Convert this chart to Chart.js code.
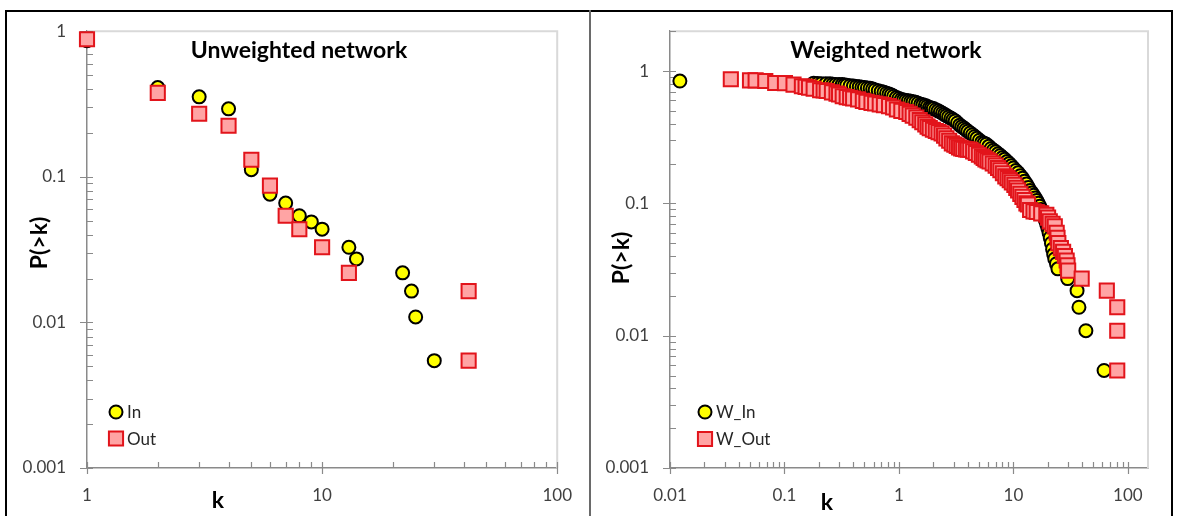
<!DOCTYPE html>
<html>
<head>
<meta charset="utf-8">
<script src="https://cdn.jsdelivr.net/npm/chart.js@4.4.0/dist/chart.umd.min.js"></script>
<style>
  body { margin: 0; background: #fff; }
  #wrap { position: relative; width: 1179px; height: 516px; overflow: hidden; background: #fff; }
  #frame { position: absolute; left: 5px; top: 10px; width: 1168px; height: 530px; border: 2px solid #000; box-sizing: border-box; }
  #divider { position: absolute; left: 589px; top: 10px; width: 2px; height: 520px; background: #6a6a6a; }
  canvas { position: absolute; top: 0; }
</style>
</head>
<body>
<div id="wrap">
  <div id="frame"></div>
  <div id="divider"></div>
  <canvas id="left" width="589" height="516" style="left:0"></canvas>
  <canvas id="right" width="589" height="516" style="left:590px"></canvas>
</div>
<script>
// ====== DATA: UNWEIGHTED ======
const inK  = [1, 2, 3, 4, 5, 6, 7, 8, 9, 10, 13, 14, 22, 24, 25, 30];
const inP  = [0.86, 0.41, 0.354, 0.293, 0.112, 0.076, 0.066, 0.054, 0.049, 0.0437, 0.0328, 0.0273, 0.0219, 0.0164, 0.0109, 0.00546];
const outK = [1, 2, 3, 4, 5, 6, 7, 8, 10, 13, 42, 42];
const outP = [0.88, 0.377, 0.271, 0.224, 0.131, 0.087, 0.054, 0.0436, 0.0328, 0.0219, 0.0164, 0.00546];

// ====== DATA: WEIGHTED ======
const wInK = [0.0122, 0.18, 0.195, 0.21, 0.23, 0.25, 0.265, 0.28, 0.30, 0.32, 0.335, 0.35, 0.375, 0.40, 0.425, 0.45,
  0.475, 0.50, 0.53, 0.56, 0.59, 0.62, 0.66, 0.70, 0.74, 0.78, 0.82, 0.86, 0.90, 0.95, 1.0, 1.05, 1.1, 1.15, 1.21,
  1.27, 1.33, 1.4, 1.47, 1.55, 1.62, 1.7, 1.77, 1.85, 1.92, 2.0, 2.1, 2.2, 2.3, 2.4, 2.5, 2.6, 2.72, 2.85, 2.97,
  3.1, 3.25, 3.4, 3.55, 3.7, 3.85, 4.0, 4.2, 4.4, 4.6, 4.8, 5.05, 5.3, 5.55, 5.8, 6.1, 6.4, 6.7, 7.0, 7.35, 7.7,
  8.05, 8.4, 8.8, 9.2, 9.6, 10, 10.5, 11, 11.5, 12, 12.5, 13, 13.5, 14, 14.5, 15, 15.5, 16, 16.5, 17, 17.5, 18,
  18.5, 19, 19.5, 20, 20.5, 21, 21.5, 22, 22.5, 23, 23.8, 24.5, 29.8, 36, 37.4, 43, 62];
const wInP = [0.84, 0.81, 0.805, 0.80, 0.80, 0.80, 0.795, 0.79, 0.79, 0.79, 0.785, 0.78, 0.775, 0.77, 0.765, 0.76,
  0.755, 0.75, 0.745, 0.74, 0.73, 0.72, 0.71, 0.70, 0.69, 0.68, 0.67, 0.66, 0.645, 0.63, 0.62, 0.61, 0.605, 0.60, 0.595,
  0.59, 0.585, 0.58, 0.57, 0.56, 0.555, 0.55, 0.54, 0.53, 0.525, 0.52, 0.51, 0.50, 0.49, 0.48, 0.47, 0.46, 0.45, 0.44, 0.43,
  0.42, 0.405, 0.39, 0.38, 0.37, 0.36, 0.35, 0.34, 0.33, 0.32, 0.31, 0.30, 0.29, 0.285, 0.28, 0.27, 0.26, 0.252, 0.245, 0.237, 0.23,
  0.222, 0.215, 0.207, 0.20, 0.192, 0.185, 0.177, 0.17, 0.162, 0.155, 0.147, 0.14, 0.132, 0.125, 0.12, 0.115, 0.11, 0.105, 0.10, 0.095, 0.09, 0.085,
  0.08, 0.075, 0.07, 0.065, 0.06, 0.055, 0.05, 0.045, 0.041, 0.038, 0.035, 0.032, 0.027, 0.0219, 0.0164, 0.0109, 0.00546];
const wOutK = [0.034, 0.050, 0.056, 0.068, 0.083, 0.101, 0.12, 0.142, 0.153, 0.164, 0.18, 0.205, 0.22, 0.234, 0.26,
  0.285, 0.30, 0.323, 0.35, 0.375, 0.398, 0.44, 0.484, 0.52, 0.576, 0.62, 0.68, 0.74, 0.82, 0.89, 0.96, 1.05, 1.16,
  1.24, 1.32, 1.42, 1.52, 1.6, 1.70, 1.78, 1.86, 1.98, 2.10, 2.22, 2.36, 2.48, 2.60, 2.75, 2.90, 3.05, 3.20, 3.35,
  3.50, 3.65, 3.85, 4.0, 4.20, 4.45, 4.70, 5.0, 5.30, 5.5, 5.70, 5.95, 6.20, 6.6, 7.00, 7.35, 7.70, 8.1, 8.50, 8.9,
  9.30, 9.7, 10.2, 10.6, 11.0, 11.5, 12.0, 12.5, 13.0, 13.4, 14.0, 15, 16.0, 17.5, 19.4, 20.1, 20.8, 22, 23.0, 23.9,
  24.3, 24.7, 26, 27.2, 28.2, 29.2, 29.7, 30.1, 39.5, 65.5, 80.8, 80.8, 80.8];
const wOutP = [0.866, 0.851, 0.851, 0.840, 0.812, 0.810, 0.79, 0.767, 0.76, 0.750, 0.735, 0.716, 0.712, 0.707, 0.69,
  0.675, 0.665, 0.645, 0.635, 0.628, 0.620, 0.61, 0.595, 0.585, 0.575, 0.568, 0.560, 0.552, 0.543, 0.53, 0.512, 0.50, 0.490,
  0.475, 0.460, 0.445, 0.426, 0.41, 0.395, 0.38, 0.370, 0.36, 0.352, 0.345, 0.338, 0.325, 0.310, 0.297, 0.284, 0.278, 0.272, 0.265,
  0.260, 0.258, 0.256, 0.255, 0.254, 0.247, 0.240, 0.233, 0.226, 0.22, 0.215, 0.211, 0.207, 0.20, 0.193, 0.185, 0.178, 0.169, 0.160, 0.155,
  0.150, 0.144, 0.138, 0.131, 0.125, 0.118, 0.112, 0.106, 0.100, 0.098, 0.089, 0.087, 0.086, 0.084, 0.082, 0.078, 0.073, 0.070, 0.067, 0.060,
  0.055, 0.050, 0.046, 0.043, 0.040, 0.037, 0.034, 0.031, 0.027, 0.0219, 0.0164, 0.0109, 0.00546];

// ====== TICK LABELS ======
const yTicks = [0.001, 0.01, 0.1, 1];
const yLabels = ['0.001', '0.01', '0.1', '1'];
const xTicksL = [1, 10, 100];
const xLabelsL = ['1', '10', '100'];
const xTicksR = [0.01, 0.1, 1, 10, 100];
const xLabelsR = ['0.01', '0.1', '1', '10', '100'];

function pairs(ks, ps) { return ks.map((k, i) => ({ x: k, y: ps[i] })); }
function labelFor(vals, labels) {
  return v => {
    const i = vals.findIndex(t => Math.abs(t - v) < t * 1e-6);
    return i >= 0 ? labels[i] : '';
  };
}

// ====== STYLES ======
const FONT = 'Lato, "Open Sans", sans-serif';
const AXIS = '#8a8a8a';
const circleStyle = { pointStyle: 'circle', pointRadius: 6.5, pointHoverRadius: 6.5, pointBackgroundColor: '#FFFF00',
  pointBorderColor: '#000', pointBorderWidth: 2, showLine: false, clip: false, order: 1 };
const squareStyle = { pointStyle: 'rect', pointRadius: 10, pointHoverRadius: 10, pointBackgroundColor: '#FFA4A4',
  pointBorderColor: '#E2141B', pointBorderWidth: 2, showLine: false, clip: false, order: 0 };

// minor/major tick positions for a log axis (values only)
function logSteps(min, max) {
  const out = [];
  for (let e = Math.floor(Math.log10(min)); e <= Math.ceil(Math.log10(max)); e++) {
    for (let d = 1; d <= 9; d++) {
      const v = d * Math.pow(10, e);
      if (v >= min * 0.999 && v <= max * 1.001) out.push({ v, major: d === 1 });
    }
  }
  return out;
}

// ====== DECORATION PLUGIN (frame, ticks, titles, legend) ======
const deco = {
  id: 'deco',
  beforeDatasetsDraw(chart, args, o) {
    const { ctx, chartArea: a, scales: { x, y } } = chart;
    ctx.save();
    ctx.strokeStyle = '#d9d9d9'; ctx.lineWidth = 2;
    ctx.beginPath(); ctx.moveTo(a.left, a.top); ctx.lineTo(a.right, a.top); ctx.lineTo(a.right, a.bottom); ctx.stroke();
    ctx.strokeStyle = AXIS; ctx.lineWidth = 1.2;
    ctx.beginPath();
    logSteps(x.min, x.max).forEach(t => {
      const px = Math.round(x.getPixelForValue(t.v)) + 0.5;
      ctx.moveTo(px, a.bottom - 6); ctx.lineTo(px, a.bottom + (t.major ? 6 : 0));
    });
    logSteps(y.min, y.max).forEach(t => {
      const py = Math.round(y.getPixelForValue(t.v)) + 0.5;
      ctx.moveTo(a.left - (t.major ? 7 : 0), py); ctx.lineTo(a.left + 6, py);
    });
    ctx.stroke();
    ctx.restore();
  },
  afterDraw(chart, args, o) {
    const { ctx } = chart;
    ctx.save();
    ctx.fillStyle = '#000';
    ctx.textAlign = 'center'; ctx.textBaseline = 'middle';
    ctx.font = 'bold 23px ' + FONT;
    ctx.fillText(o.title, o.titleX, o.titleY);
    ctx.fillText('k', o.kX, o.kY);
    ctx.save();
    ctx.translate(o.pX, o.pY); ctx.rotate(-Math.PI / 2);
    ctx.fillText('P(>k)', 0, 0);
    ctx.restore();
    // legend
    ctx.font = '17px ' + FONT;
    ctx.textAlign = 'left';
    chart.data.datasets.forEach((ds, i) => {
      const ly = o.legendY + i * o.legendGap;
      ctx.fillStyle = ds.pointBackgroundColor; ctx.strokeStyle = ds.pointBorderColor; ctx.lineWidth = ds.pointBorderWidth;
      Chart.helpers.drawPoint(ctx, { pointStyle: ds.pointStyle, radius: ds.pointRadius, borderWidth: ds.pointBorderWidth, rotation: 0 }, o.legendX, ly);
      ctx.fillStyle = '#262626';
      ctx.fillText(ds.label, o.legendX + 11, ly + 1);
    });
    ctx.restore();
  }
};

function axisX(min, max, ticks, labels, h) {
  return { type: 'logarithmic', min, max,
    grid: { display: false, drawTicks: false }, border: { color: AXIS, width: 1.5 },
    ticks: { autoSkip: false, maxRotation: 0, padding: 17, color: '#404040', font: { family: FONT, size: 17 }, callback: labelFor(ticks, labels) },
    afterFit: s => { s.height = h; } };
}
function axisY(min, max, w) {
  return { type: 'logarithmic', min, max,
    grid: { display: false, drawTicks: false }, border: { color: AXIS, width: 1.5 },
    ticks: { autoSkip: false, padding: 21, color: '#404040', font: { family: FONT, size: 17 }, callback: labelFor(yTicks, yLabels) },
    afterFit: s => { s.width = w; } };
}

function makeChart(id, sets, xAxis, yAxis, pad, decoOpts) {
  return new Chart(document.getElementById(id), {
    type: 'scatter',
    data: { datasets: sets },
    options: {
      responsive: false, animation: false, devicePixelRatio: 1,
      layout: { padding: pad },
      plugins: { legend: { display: false }, tooltip: { enabled: false }, deco: decoOpts },
      scales: { x: xAxis, y: yAxis }
    },
    plugins: [deco]
  });
}

// ====== LEFT: UNWEIGHTED ======
makeChart('left', [
  Object.assign({ label: 'In', data: pairs(inK, inP) }, circleStyle),
  Object.assign({ label: 'Out', data: pairs(outK, outP) }, squareStyle)
], axisX(1, 100, xTicksL, xLabelsL, 48), axisY(0.001, 1, 87),
  { left: 0, top: 29, right: 26, bottom: 0 },
  { title: 'Unweighted network', titleX: 299, titleY: 51, kX: 218, kY: 501, pX: 40, pY: 243,
    legendX: 116, legendY: 412, legendGap: 26.5 });

// ====== RIGHT: WEIGHTED ======
makeChart('right', [
  Object.assign({ label: 'W_In', data: pairs(wInK, wInP) }, circleStyle),
  Object.assign({ label: 'W_Out', data: pairs(wOutK, wOutP) }, squareStyle)
], axisX(0.01, 150, xTicksR, xLabelsR, 48), axisY(0.001, 2, 80),
  { left: 0, top: 29, right: 31, bottom: 0 },
  { title: 'Weighted network', titleX: 296, titleY: 51, kX: 237, kY: 503, pX: 32, pY: 258,
    legendX: 115, legendY: 412, legendGap: 27 });
</script>
</body>
</html>
